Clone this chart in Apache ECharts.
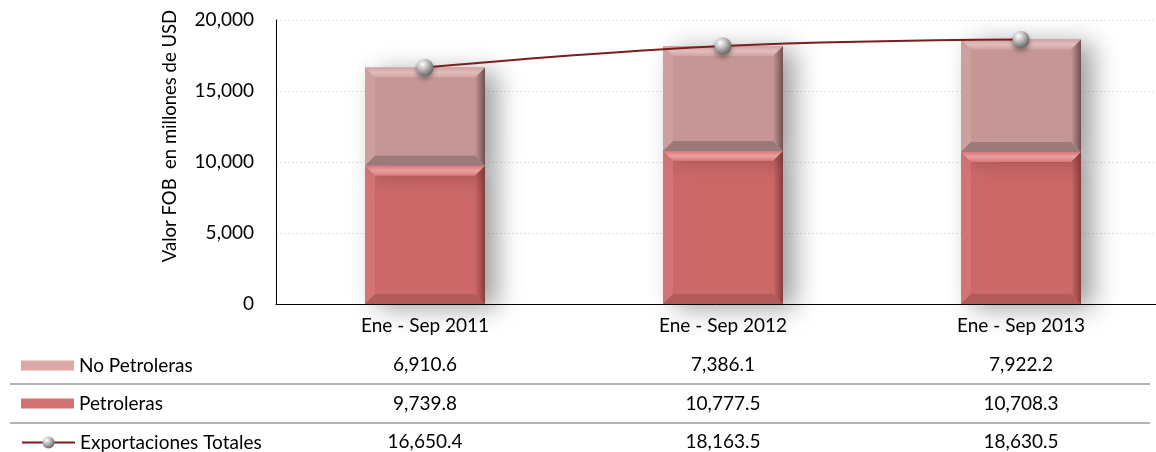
<!DOCTYPE html>
<html><head><meta charset="utf-8">
<script src="https://cdn.jsdelivr.net/npm/echarts@6/dist/echarts.min.js"></script>
<style>html,body{margin:0;padding:0;background:#fff}#c{width:1156px;height:452px}</style>
</head><body><div id="c"></div>
<script>
const categories = ['Ene - Sep 2011', 'Ene - Sep 2012', 'Ene - Sep 2013'];
const noPetroleras = [6910.6, 7386.1, 7922.2];
const petroleras = [9739.8, 10777.5, 10708.3];
const totales = [16650.4, 18163.5, 18630.5];
const seriesNames = ['No Petroleras', 'Petroleras', 'Exportaciones Totales'];
const yAxisTitle = 'Valor FOB  en millones de USD';

const FONT = 'Lato, "Open Sans", sans-serif';
const FS = 19;
const fmt = v => v.toLocaleString('en-US', {minimumFractionDigits: 1, maximumFractionDigits: 1});

const chart = echarts.init(document.getElementById('c'), null, {renderer: 'canvas'});

const sphere = new echarts.graphic.RadialGradient(0.35, 0.3, 0.7, [
  {offset: 0, color: '#ffffff'}, {offset: 0.5, color: '#b8b8b8'}, {offset: 1, color: '#6a6a6a'}]);

const BW = 120;
const bevel = {
  petro: {topA: '#eaa0a0', topB: '#d87878', left: '#d98282', rightA: 'rgba(120,50,50,0)', rightB: 'rgba(110,45,45,0.75)', bottom: '#a85656'},
  nopetro: {topA: '#e2bcbc', topB: '#cfa3a3', left: '#d3a9a9', rightA: 'rgba(90,60,60,0)', rightB: 'rgba(80,55,55,0.75)', bottom: '#8e7070'}
};
function bevelItem(pal) {
  return function (params, api) {
    const x = api.coord([api.value(0), api.value(2)]);
    const y0 = api.coord([api.value(0), api.value(1)]);
    const l = x[0] - BW / 2, r = x[0] + BW / 2, t = x[1], b = y0[1];
    const d = 10;
    return {type: 'group', children: [
      {type: 'polygon', shape: {points: [[l, t], [r, t], [r - d, t + d], [l + d, t + d]]},
        style: {fill: new echarts.graphic.LinearGradient(0, 0, 0, 1, [{offset: 0, color: pal.topB}, {offset: 0.5, color: pal.topA}, {offset: 1, color: pal.topB}])}},
      {type: 'polygon', shape: {points: [[l, t], [l + d, t + d], [l + d, b - d], [l, b]]}, style: {fill: pal.left, opacity: 0.5}},
      {type: 'polygon', shape: {points: [[r, t], [r, b], [r - d, b - d], [r - d, t + d]]},
        style: {fill: new echarts.graphic.LinearGradient(0, 0, 1, 0, [{offset: 0, color: pal.rightA}, {offset: 1, color: pal.rightB}])}},
      {type: 'polygon', shape: {points: [[l, b], [l + d, b - d], [r - d, b - d], [r, b]]}, style: {fill: pal.bottom, opacity: 0.75}}
    ]};
  };
}
const petroBevelData = petroleras.map((v, i) => [i, 0, v]);
const noPetroBevelData = noPetroleras.map((v, i) => [i, petroleras[i], petroleras[i] + v]);

const legendBase = {
  orient: 'horizontal', left: 16, itemWidth: 53, itemHeight: 10, itemGap: 4,
  textStyle: {fontSize: FS, color: '#000', fontFamily: FONT}
};

const option = {
  animation: false,
  backgroundColor: '#fff',
  textStyle: {fontFamily: FONT},
  grid: {left: 276, top: 20, width: 894, height: 284, containLabel: false, outerBoundsMode: 'none'},
  legend: [
    Object.assign({}, legendBase, {top: 351, data: [{name: seriesNames[0], icon: 'rect', itemStyle: {color: '#dba7a7'}}]}),
    Object.assign({}, legendBase, {top: 389, data: [{name: seriesNames[1], icon: 'rect', itemStyle: {color: '#d37272'}}]}),
    Object.assign({}, legendBase, {top: 428, itemHeight: 15, data: [{name: seriesNames[2]}]})
  ],
  xAxis: {
    type: 'category', data: categories,
    axisLine: {lineStyle: {color: '#000', width: 1}},
    axisTick: {show: false},
    axisLabel: {fontSize: FS, color: '#000', margin: 12, fontFamily: FONT}
  },
  yAxis: {
    type: 'value', min: 0, max: 20000, interval: 5000,
    axisLine: {show: true, lineStyle: {color: '#000', width: 1}},
    axisTick: {show: false},
    axisLabel: {fontSize: FS, color: '#000', margin: 22, fontFamily: FONT,
      formatter: v => v.toLocaleString('en-US')},
    splitLine: {show: true, lineStyle: {color: '#e2e2e2', type: [2, 2]}}
  },
  series: [
    {
      name: seriesNames[1], type: 'bar', stack: 'tot', data: petroleras, barWidth: BW,
      itemStyle: {color: '#cc6868',
        shadowColor: 'rgba(0,0,0,0.38)', shadowBlur: 24, shadowOffsetX: 12, shadowOffsetY: 4},
      z: 2
    },
    {
      name: seriesNames[0], type: 'bar', stack: 'tot', data: noPetroleras, barWidth: BW,
      itemStyle: {color: '#c69696',
        shadowColor: 'rgba(0,0,0,0.38)', shadowBlur: 24, shadowOffsetX: 12, shadowOffsetY: 4},
      z: 2
    },
    {type: 'custom', name: 'bp', data: petroBevelData, renderItem: bevelItem(bevel.petro), z: 3, silent: true},
    {type: 'custom', name: 'bn', data: noPetroBevelData, renderItem: bevelItem(bevel.nopetro), z: 3, silent: true},
    {
      name: seriesNames[2], type: 'line', data: totales, smooth: 0.4,
      symbol: 'circle', symbolSize: 17,
      lineStyle: {color: '#7a1e1e', width: 2},
      itemStyle: {color: sphere, borderWidth: 0, shadowColor: 'rgba(0,0,0,0.4)', shadowBlur: 5, shadowOffsetY: 3},
      z: 5
    }
  ]
};
chart.setOption(option);

// Data table below chart
const rows = [noPetroleras, petroleras, totales];
const rowY = [365, 404, 442];
const g = [];
rows.forEach((arr, r) => {
  arr.forEach((v, i) => {
    const x = chart.convertToPixel({xAxisIndex: 0}, categories[i]);
    g.push({type: 'text', x: x, y: rowY[r], style: {text: fmt(v), fontSize: FS, fill: '#000',
      fontFamily: FONT, align: 'center', verticalAlign: 'middle'}});
  });
});
[384, 423].forEach(y => g.push({type: 'line', shape: {x1: 10, y1: y, x2: 1150, y2: y},
  style: {stroke: '#9a9a9a', lineWidth: 1.5}}));
// y axis title
g.push({type: 'text', x: 170, y: 136, rotation: Math.PI / 2,
  style: {text: yAxisTitle, fontSize: 18.5, fill: '#000', fontFamily: FONT, align: 'center', verticalAlign: 'middle'}});
chart.setOption({graphic: g});
</script></body></html>
